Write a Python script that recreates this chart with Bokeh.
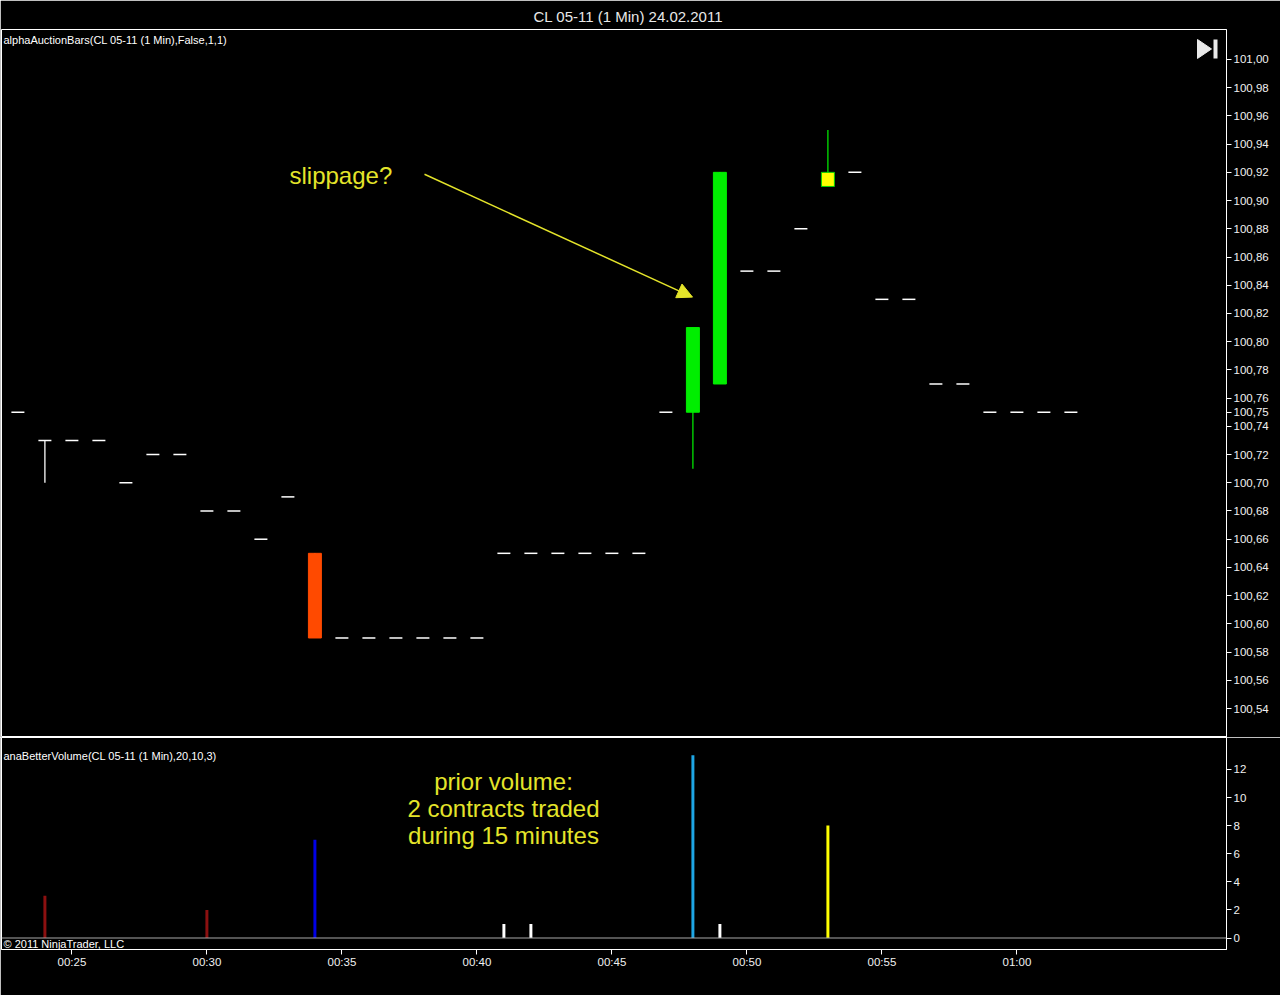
from bokeh.plotting import figure
from bokeh.layouts import column
from bokeh.models import (Range1d, FixedTicker, CustomJSTickFormatter, Label, Arrow,
                          NormalHead, Span)
from bokeh.embed import file_html
from bokeh.resources import INLINE

# ---------------- data ----------------
TITLE = "CL 05-11 (1 Min)  24.02.2011"
PRICE_LABEL = "alphaAuctionBars(CL 05-11 (1 Min),False,1,1)"
VOL_LABEL = "anaBetterVolume(CL 05-11 (1 Min),20,10,3)"
COPYRIGHT = "\u00a9 2011 NinjaTrader, LLC"
NOTE_PRICE = "slippage?"
NOTE_VOL = "prior volume:\n2 contracts traded\nduring 15 minutes"

minutes = list(range(23, 63))  # minutes after midnight (00:23 .. 01:02)
opens = [100.75, 100.73, 100.73, 100.73, 100.70, 100.72, 100.72, 100.68, 100.68, 100.66,
         100.69, 100.65, 100.59, 100.59, 100.59, 100.59, 100.59, 100.59, 100.65, 100.65,
         100.65, 100.65, 100.65, 100.65, 100.75, 100.75, 100.77, 100.85, 100.85, 100.88,
         100.91, 100.92, 100.83, 100.83, 100.77, 100.77, 100.75, 100.75, 100.75, 100.75]
highs = [100.75, 100.73, 100.73, 100.73, 100.70, 100.72, 100.72, 100.68, 100.68, 100.66,
         100.69, 100.65, 100.59, 100.59, 100.59, 100.59, 100.59, 100.59, 100.65, 100.65,
         100.65, 100.65, 100.65, 100.65, 100.75, 100.81, 100.92, 100.85, 100.85, 100.88,
         100.95, 100.92, 100.83, 100.83, 100.77, 100.77, 100.75, 100.75, 100.75, 100.75]
lows = [100.75, 100.70, 100.73, 100.73, 100.70, 100.72, 100.72, 100.68, 100.68, 100.66,
        100.69, 100.59, 100.59, 100.59, 100.59, 100.59, 100.59, 100.59, 100.65, 100.65,
        100.65, 100.65, 100.65, 100.65, 100.75, 100.71, 100.77, 100.85, 100.85, 100.88,
        100.91, 100.92, 100.83, 100.83, 100.77, 100.77, 100.75, 100.75, 100.75, 100.75]
closes = [100.75, 100.73, 100.73, 100.73, 100.70, 100.72, 100.72, 100.68, 100.68, 100.66,
          100.69, 100.59, 100.59, 100.59, 100.59, 100.59, 100.59, 100.59, 100.65, 100.65,
          100.65, 100.65, 100.65, 100.65, 100.75, 100.81, 100.92, 100.85, 100.85, 100.88,
          100.92, 100.92, 100.83, 100.83, 100.77, 100.77, 100.75, 100.75, 100.75, 100.75]
volumes = [0, 3, 0, 0, 0, 0, 0, 2, 0, 0,
           0, 7, 0, 0, 0, 0, 0, 0, 1, 1,
           0, 0, 0, 0, 0, 13, 1, 0, 0, 0,
           8, 0, 0, 0, 0, 0, 0, 0, 0, 0]

# colour classes per bar (from the picture)
special_body = {34: "#ff4a00", 48: "#00ee00", 49: "#00ee00", 53: "#ffff00"}
special_body_line = {34: "#ff4a00", 48: "#00ee00", 49: "#00ee00", 53: "#00d000"}
special_wick = {48: "#00e400", 53: "#00e400"}
vol_colors_map = {24: "#8c1010", 30: "#8c1010", 34: "#0000e6", 41: "#ffffff", 42: "#ffffff",
                  48: "#1ea6e4", 49: "#ffffff", 53: "#ffff00"}

x_tick_values = [25, 30, 35, 40, 45, 50, 55, 60]
x_tick_labels = ["00:25", "00:30", "00:35", "00:40", "00:45", "00:50", "00:55", "01:00"]
price_ticks = [round(100.54 + 0.02 * i, 2) for i in range(24)] + [closes[-1]]
vol_ticks = [0, 2, 4, 6, 8, 10, 12]

# ---------------- layout helpers (page pixel -> data, for annotations) ----------------
def px_x(xp):
    return 25 + (xp - 71.4) / 27.0

def px_p(yp):
    return 101.00 - (yp - 58) / 1413.04

def px_v(yp):
    return (937.5 - yp) / 14.05

X0, X1 = px_x(1), px_x(1226)
P0, P1 = px_p(737), px_p(28)
V0, V1 = px_v(949), px_v(737)

YEL = "#e4e42a"
FONT = "Liberation Sans"
W = 1280


def style_axis(ax):
    ax.axis_line_color = "white"
    ax.major_tick_line_color = "white"
    ax.major_tick_in = 0
    ax.major_tick_out = 5
    ax.minor_tick_line_color = None
    ax.major_label_text_color = "#f0f0f0"
    ax.major_label_text_font = FONT
    ax.major_label_text_font_size = "11.5px"


# ---------------- price panel ----------------
p = figure(width=W, height=737, output_backend="svg", toolbar_location=None,
           x_range=Range1d(X0, X1), y_range=Range1d(P0, P1),
           y_axis_location="right", min_border_left=1, min_border_right=54,
           min_border_top=28, min_border_bottom=0)
p.title.text = TITLE
p.title.align = "left"
p.title.offset = 532
p.title.text_color = "#e8e8e8"
p.title.text_font = FONT
p.title.text_font_size = "15px"
p.title.text_font_style = "normal"
p.title.standoff = 10
p.background_fill_color = "black"
p.border_fill_color = "black"
p.outline_line_color = "white"
p.grid.visible = False
p.xaxis.visible = False
ya = p.yaxis[0]
ya.ticker = FixedTicker(ticks=price_ticks)
ya.formatter = CustomJSTickFormatter(code="return tick.toFixed(2).replace('.', ',');")
style_axis(ya)
ya.major_label_standoff = 2

body_top, body_bot, body_x, body_fill, body_line = [], [], [], [], []
dash_x, dash_y = [], []
wick_col = []
for m, o, h, l, c in zip(minutes, opens, highs, lows, closes):
    wick_col.append(special_wick.get(m, "white"))
    if o != c:
        body_x.append(m)
        body_top.append(max(o, c))
        body_bot.append(min(o, c))
        body_fill.append(special_body.get(m, "white"))
        body_line.append(special_body_line.get(m, "white"))
    else:
        dash_x.append(m)
        dash_y.append(c)

p.segment(x0=minutes, y0=lows, x1=minutes, y1=highs, line_color=wick_col, line_width=1.3)
p.vbar(x=body_x, width=0.48, top=body_top, bottom=body_bot,
       fill_color=body_fill, line_color=body_line, line_width=1)
p.scatter(x=dash_x, y=dash_y, marker="dash", size=13, line_color="white", line_width=1.5)

# play-to-end icon
p.patch(x=[px_x(1197), px_x(1211), px_x(1197)], y=[px_p(38), px_p(47.5), px_p(57)],
        fill_color="#e8e8e8", line_color="#e8e8e8")
p.quad(left=px_x(1213), right=px_x(1217), top=px_p(38), bottom=px_p(57),
       fill_color="#e8e8e8", line_color=None)

p.add_layout(Label(x=px_x(3), y=px_p(39), text=PRICE_LABEL, text_align="left",
                   text_baseline="middle", text_color="white", text_font=FONT,
                   text_font_size="11px"))
p.add_layout(Label(x=px_x(289), y=px_p(174), text=NOTE_PRICE, text_align="left",
                   text_baseline="middle", text_color=YEL, text_font=FONT,
                   text_font_size="24px"))
p.add_layout(Arrow(x_start=px_x(424), y_start=px_p(173), x_end=px_x(692), y_end=px_p(296),
                   line_color=YEL, line_width=1.5,
                   end=NormalHead(size=15, fill_color=YEL, line_color=YEL)))

# ---------------- volume panel ----------------
p2 = figure(width=W, height=258, output_backend="svg", toolbar_location=None,
            x_range=p.x_range, y_range=Range1d(V0, V1),
            y_axis_location="right", min_border_left=1, min_border_right=54,
            min_border_top=0, min_border_bottom=46)
p2.background_fill_color = "black"
p2.border_fill_color = "black"
p2.outline_line_color = "white"
p2.grid.visible = False
ya2 = p2.yaxis[0]
ya2.ticker = FixedTicker(ticks=vol_ticks)
style_axis(ya2)
ya2.major_label_standoff = 2
xa = p2.xaxis[0]
xa.ticker = FixedTicker(ticks=x_tick_values)
xa.major_label_overrides = {v: s for v, s in zip(x_tick_values, x_tick_labels)}
style_axis(xa)
xa.major_label_standoff = 1

vx = [m for m, v in zip(minutes, volumes) if v > 0]
vt = [v for v in volumes if v > 0]
vc = [vol_colors_map.get(m, "white") for m in vx]
p2.vbar(x=vx, width=0.11, top=vt, bottom=0, fill_color=vc, line_color=None)
p2.add_layout(Span(location=0, dimension="width", line_color="#a8a8a8", line_width=1))

p2.add_layout(Label(x=px_x(3), y=px_v(755), text=VOL_LABEL, text_align="left",
                    text_baseline="middle", text_color="white", text_font=FONT,
                    text_font_size="11px"))
p2.add_layout(Label(x=px_x(503), y=px_v(808), text=NOTE_VOL, text_align="center",
                    text_baseline="middle", text_color=YEL, text_font=FONT,
                    text_font_size="24px", text_line_height=1.0))
p2.add_layout(Label(x=px_x(3), y=px_v(943.5), text=COPYRIGHT, text_align="left",
                    text_baseline="middle", text_color="white", text_font=FONT,
                    text_font_size="11px"))

layout = column(p, p2, spacing=0)
html = file_html(layout, INLINE, title="CL 05-11 (1 Min)")
html = html.replace("<body>", '<body style="background-color:black;">', 1)
open("out.html", "w").write(html)
